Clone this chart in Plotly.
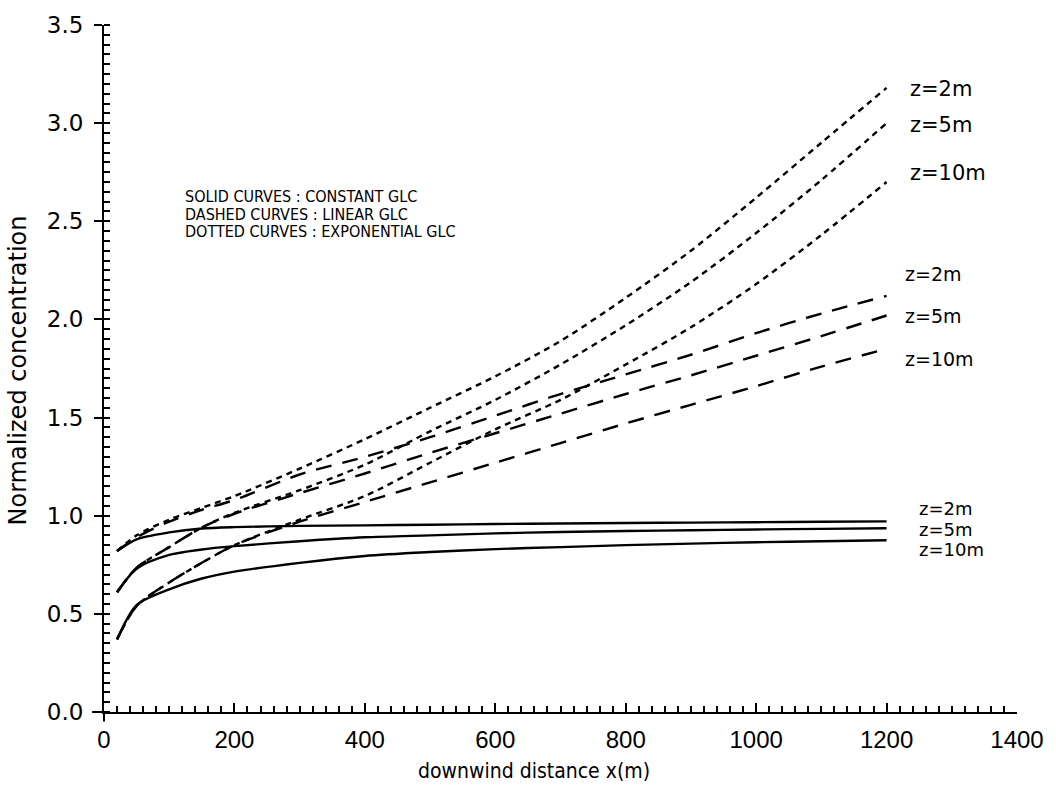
import plotly.graph_objects as go

# downwind distance (m) at which the curves are sampled
x_m = [20, 50, 100, 150, 200, 300, 400, 500, 600, 700, 800, 900, 1000, 1100, 1200]

# constant GLC (solid)
const_z2 = [0.82, 0.88, 0.915, 0.935, 0.942, 0.948, 0.951, 0.954, 0.958, 0.960, 0.963, 0.965, 0.967, 0.969, 0.971]
const_z5 = [0.61, 0.73, 0.80, 0.828, 0.845, 0.870, 0.890, 0.900, 0.910, 0.917, 0.922, 0.926, 0.930, 0.933, 0.936]
const_z10 = [0.37, 0.545, 0.625, 0.68, 0.715, 0.760, 0.795, 0.815, 0.830, 0.840, 0.850, 0.858, 0.865, 0.870, 0.875]

# linear GLC (dashed)
lin_z2 = [0.82, 0.89, 0.97, 1.03, 1.08, 1.21, 1.30, 1.40, 1.51, 1.62, 1.72, 1.82, 1.93, 2.03, 2.12]
lin_z5 = [0.61, 0.735, 0.84, 0.94, 1.01, 1.115, 1.215, 1.32, 1.42, 1.52, 1.62, 1.715, 1.815, 1.915, 2.02]
lin_z10 = [0.37, 0.54, 0.66, 0.76, 0.85, 0.97, 1.07, 1.17, 1.27, 1.37, 1.47, 1.565, 1.66, 1.76, 1.85]

# exponential GLC (dotted)
exp_z2 = [0.82, 0.90, 0.98, 1.04, 1.10, 1.24, 1.39, 1.55, 1.71, 1.89, 2.11, 2.35, 2.62, 2.90, 3.18]
exp_z5 = [0.61, 0.735, 0.84, 0.94, 1.015, 1.13, 1.26, 1.43, 1.59, 1.77, 1.97, 2.19, 2.44, 2.71, 3.00]
exp_z10 = [0.37, 0.54, 0.66, 0.76, 0.85, 0.98, 1.10, 1.27, 1.44, 1.59, 1.77, 1.96, 2.18, 2.43, 2.70]

height_labels = ["z=2m", "z=5m", "z=10m"]
legend_lines = [
    "SOLID CURVES : CONSTANT GLC",
    "DASHED CURVES : LINEAR GLC",
    "DOTTED CURVES : EXPONENTIAL GLC",
]

x_title = "downwind distance x(m)"
y_title = "Normalized concentration"

fig = go.Figure()

groups = [
    ([const_z2, const_z5, const_z10], "solid"),
    ([lin_z2, lin_z5, lin_z10], "16px,11px"),
    ([exp_z2, exp_z5, exp_z10], "6px,5px"),
]
for series, dash in groups:
    for ys, lab in zip(series, height_labels):
        fig.add_trace(go.Scatter(
            x=x_m, y=ys, mode="lines", name=lab, showlegend=False,
            line=dict(color="black", width=2.4, dash=dash, shape="spline", smoothing=0.8),
            hoverinfo="skip",
        ))

# second y axis only carries the inner part of the major ticks
fig.add_trace(go.Scatter(x=[None], y=[None], yaxis="y2", showlegend=False))

label_font = "DejaVu Sans"
condensed = "DejaVu Sans Condensed, Liberation Sans Narrow, Liberation Sans"


def px_to_y(py):
    return (712 - py) / 692 * 3.5


# end-of-curve height labels: (x anchor in data units, vertical pixel position)
exp_pos = [(1233, 84), (1233, 121), (1233, 169)]
lin_pos = [(1225, 271), (1225, 313), (1225, 356)]
const_pos = [(1247, 507), (1247, 528), (1247, 548)]

for pos, size in ((exp_pos, 21), (lin_pos, 19), (const_pos, 18)):
    for (xa, py), lab in zip(pos, height_labels):
        fig.add_annotation(x=xa, y=px_to_y(py), xref="x", yref="y", text=lab,
                           showarrow=False, xanchor="left", yanchor="middle",
                           font=dict(family=label_font, size=size, color="black"))

for i, txt in enumerate(legend_lines):
    fig.add_annotation(x=(183 - 104) / 913, y=(712 - (193 + 17.5 * i)) / 692,
                       xref="paper", yref="paper", text=txt, showarrow=False,
                       xanchor="left", yanchor="middle",
                       font=dict(family=condensed, size=16, color="black"))

fig.add_annotation(x=(534 - 104) / 913, y=(712 - 771) / 692, xref="paper", yref="paper",
                   text=x_title, showarrow=False, xanchor="center", yanchor="middle",
                   font=dict(family=condensed, size=21, color="black"))
fig.add_annotation(x=(18 - 104) / 913, y=(712 - 368) / 692, xref="paper", yref="paper",
                   text=y_title, showarrow=False, textangle=-90,
                   xanchor="center", yanchor="middle",
                   font=dict(family=label_font, size=24, color="black"))

# short extensions of both axis lines past the origin
fig.add_shape(type="line", xref="paper", yref="paper", x0=-0.013, x1=0, y0=0, y1=0,
              line=dict(color="black", width=2))
fig.add_shape(type="line", xref="paper", yref="paper", x0=0, x1=0, y0=-0.014, y1=0,
              line=dict(color="black", width=2))

fig.update_layout(
    width=1056, height=790,
    margin=dict(l=104, r=39, t=20, b=78),
    paper_bgcolor="white", plot_bgcolor="white",
    showlegend=False,
    xaxis=dict(
        range=[0, 1400], dtick=200, tick0=0,
        showline=True, linecolor="black", linewidth=2,
        ticks="inside", ticklen=9, tickwidth=2, tickcolor="black",
        minor=dict(ticks="inside", dtick=20, ticklen=6, tickwidth=2, tickcolor="black"),
        showgrid=False, zeroline=False,
        tickfont=dict(family="Liberation Sans, Arial", size=24, color="black"),
        ticklabelstandoff=5,
    ),
    yaxis=dict(
        range=[0, 3.5], dtick=0.5, tick0=0, tickformat=".1f",
        showline=True, linecolor="black", linewidth=2,
        ticks="outside", ticklen=8, tickwidth=2, tickcolor="black",
        minor=dict(ticks="inside", dtick=0.05, ticklen=6, tickwidth=2, tickcolor="black"),
        showgrid=False, zeroline=False,
        tickfont=dict(family=label_font, size=23, color="black"),
        ticklabelstandoff=6,
    ),
    yaxis2=dict(
        overlaying="y", anchor="x", side="left", range=[0, 3.5], dtick=0.5, tick0=0,
        showticklabels=False, showline=False, showgrid=False, zeroline=False,
        ticks="inside", ticklen=6, tickwidth=2, tickcolor="black",
    ),
)

fig.write_html("out.html")
